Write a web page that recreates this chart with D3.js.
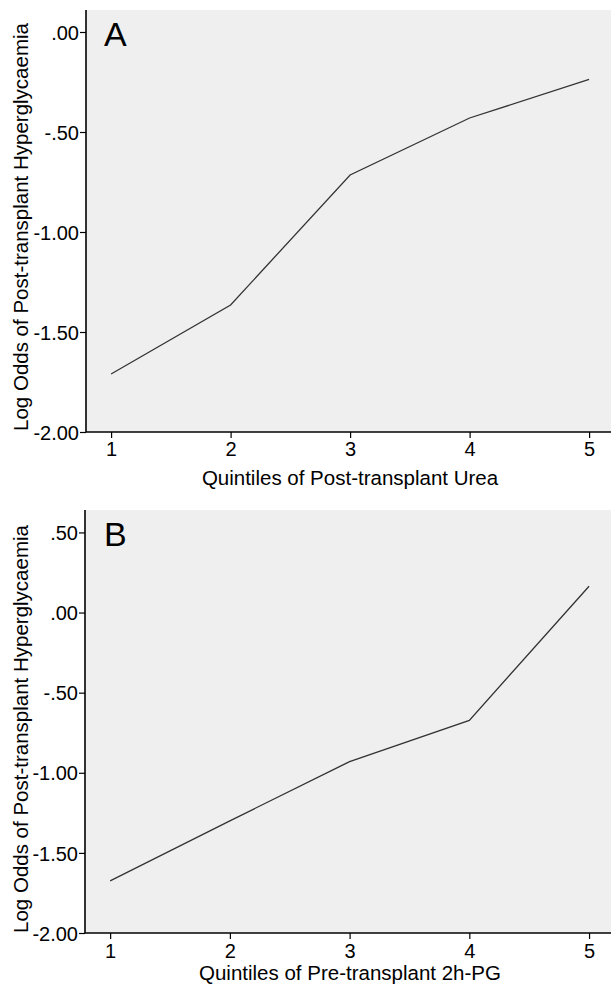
<!DOCTYPE html>
<html>
<head>
<meta charset="utf-8">
<script src="https://cdn.jsdelivr.net/npm/d3@7/dist/d3.min.js"></script>
<style>
html,body{margin:0;padding:0;background:#fff;}
svg{display:block;}
text{font-family:"Liberation Sans",Arial,Helvetica,sans-serif;fill:#000;}
</style>
</head>
<body>
<svg id="chart" width="611" height="985"></svg>
<script>
// ---- data ----
const quintiles = [1, 2, 3, 4, 5];
const logOddsA = [-1.71, -1.365, -0.715, -0.43, -0.237];
const logOddsB = [-1.675, -1.30, -0.93, -0.673, 0.164];
const yTicksA = [0, -0.5, -1, -1.5, -2];
const yTicksB = [0.5, 0, -0.5, -1, -1.5, -2];
const panelLetters = ["A", "B"];
const xTitles = ["Quintiles of Post-transplant Urea", "Quintiles of Pre-transplant 2h-PG"];
const yTitle = "Log Odds of Post-transplant Hyperglycaemia";

const svg = d3.select("#chart");
const fmt = v => {
  const s = Math.abs(v).toFixed(2).replace(/^0\./, ".");
  return (v < 0 ? "-" : "") + s;
};

const panels = [
  {top: 10, bottom: 432, left: 86, yDomain: [-2, 0.11], ticks: yTicksA, vals: logOddsA,
   letter: panelLetters[0], xTitle: xTitles[0], titleY: 485, tickLabelY: 456, yTitleC: 227},
  {top: 510, bottom: 933, left: 85, yDomain: [-2, 0.64], ticks: yTicksB, vals: logOddsB,
   letter: panelLetters[1], xTitle: xTitles[1], titleY: 980, tickLabelY: 958, yTitleC: 729}
];

panels.forEach(p => {
  const right = 613;
  const x = d3.scaleLinear().domain([0.79, 5.2]).range([p.left, right]);
  const y = d3.scaleLinear().domain(p.yDomain).range([p.bottom, p.top]);
  const g = svg.append("g");

  g.append("rect")
    .attr("x", p.left).attr("y", p.top)
    .attr("width", right - p.left).attr("height", p.bottom - p.top)
    .attr("fill", "#efefef");

  const line = d3.line().x((d, i) => x(quintiles[i])).y(d => y(d));
  g.append("path")
    .datum(p.vals)
    .attr("d", line)
    .attr("fill", "none")
    .attr("stroke", "#333")
    .attr("stroke-width", 1.3);

  // y axis
  const ya = d3.axisLeft(y).tickValues(p.ticks).tickFormat(fmt).tickSize(6).tickPadding(1);
  const yg = g.append("g").attr("transform", `translate(${p.left},0)`).call(ya);
  yg.select(".domain").attr("stroke", "#000").attr("stroke-width", 1.6)
    .attr("d", `M0,${p.top}V${p.bottom}`);
  yg.selectAll(".tick line").attr("stroke", "#000").attr("stroke-width", 1.2);
  yg.selectAll(".tick text").style("font-size", "20px").attr("dy", "0.36em");

  // x axis
  const xa = d3.axisBottom(x).tickValues(quintiles).tickFormat(d3.format("d")).tickSize(6).tickPadding(4);
  const xg = g.append("g").attr("transform", `translate(0,${p.bottom})`).call(xa);
  xg.select(".domain").attr("stroke", "#000").attr("stroke-width", 1.6)
    .attr("d", `M${p.left},0H${right}`);
  xg.selectAll(".tick line").attr("stroke", "#000").attr("stroke-width", 1.2);
  xg.selectAll(".tick text").style("font-size", "20px").attr("dy", null)
    .attr("y", p.tickLabelY - p.bottom);

  // axis titles
  g.append("text")
    .attr("x", 350).attr("y", p.titleY)
    .attr("text-anchor", "middle")
    .style("font-size", "20.5px")
    .text(p.xTitle);

  g.append("text")
    .attr("transform", `translate(28,${p.yTitleC}) rotate(-90)`)
    .attr("text-anchor", "middle")
    .style("font-size", "20.5px")
    .text(yTitle);

  // panel letter
  g.append("text")
    .attr("x", 104).attr("y", p.top + 36)
    .style("font-size", "34px")
    .text(p.letter);
});
</script>
</body>
</html>
